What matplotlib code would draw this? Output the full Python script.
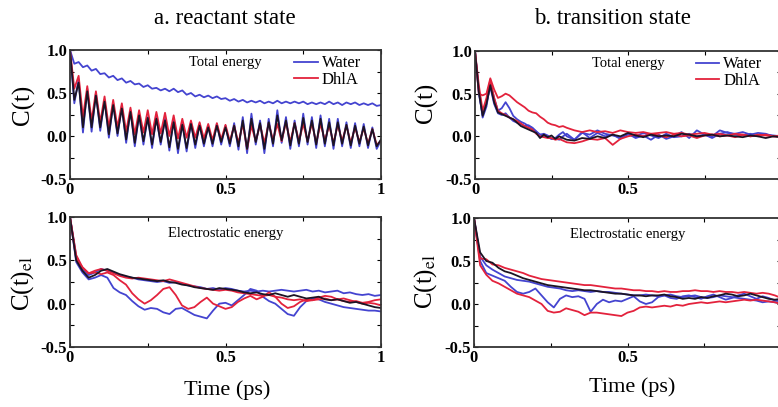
import matplotlib
matplotlib.use("Agg")
import matplotlib.pyplot as plt
import numpy as np
from matplotlib.lines import Line2D

plt.rcParams['font.family'] = ['Liberation Serif', 'DejaVu Serif']
plt.rcParams['mathtext.fontset'] = 'stix'

BLUE = '#4444d0'
RED = '#e3223c'
BLACK = '#1c1424'

# ---- a. reactant state, total energy (values at half-period steps) ----
rs_tot_water = [1.00, 0.84, 0.86, 0.80, 0.82, 0.76, 0.78, 0.72, 0.73, 0.68, 0.70, 0.65, 0.67, 0.62,
                0.64, 0.60, 0.61, 0.57, 0.59, 0.55, 0.56, 0.53, 0.55, 0.52, 0.55, 0.51, 0.53, 0.48,
                0.50, 0.46, 0.48, 0.45, 0.47, 0.44, 0.46, 0.43, 0.44, 0.41, 0.43, 0.40, 0.42, 0.39,
                0.41, 0.39, 0.41, 0.38, 0.40, 0.38, 0.41, 0.38, 0.40, 0.38, 0.40, 0.38, 0.40, 0.37,
                0.39, 0.37, 0.39, 0.37, 0.40, 0.37, 0.39, 0.36, 0.39, 0.37, 0.39, 0.36, 0.38, 0.36,
                0.38, 0.35, 0.36]
rs_tot_blue = [1.00, 0.38, 0.66, 0.04, 0.55, 0.05, 0.50, 0.06, 0.42, -0.02, 0.38, 0.00, 0.35, -0.08,
               0.30, -0.12, 0.25, -0.10, 0.22, -0.14, 0.22, -0.10, 0.20, -0.17, 0.18, -0.20, 0.15,
               -0.18, 0.16, -0.14, 0.14, -0.12, 0.12, -0.12, 0.14, -0.10, 0.12, -0.12, 0.15, -0.16,
               0.22, -0.20, 0.26, -0.10, 0.18, -0.20, 0.20, -0.12, 0.30, -0.08, 0.22, -0.15, 0.18,
               -0.12, 0.26, -0.10, 0.22, -0.14, 0.24, -0.12, 0.20, -0.15, 0.20, -0.12, 0.16, -0.14,
               0.15, -0.12, 0.14, -0.14, 0.10, -0.15, -0.05]
rs_tot_black = [1.00, 0.42, 0.62, 0.10, 0.52, 0.10, 0.47, 0.10, 0.40, 0.02, 0.36, 0.03, 0.32, -0.04,
                0.28, -0.08, 0.24, -0.06, 0.21, -0.10, 0.20, -0.07, 0.18, -0.13, 0.16, -0.15, 0.13,
                -0.14, 0.14, -0.10, 0.12, -0.09, 0.10, -0.09, 0.12, -0.07, 0.10, -0.09, 0.12, -0.12,
                0.18, -0.15, 0.20, -0.07, 0.15, -0.15, 0.16, -0.09, 0.24, -0.05, 0.18, -0.11, 0.15,
                -0.09, 0.21, -0.07, 0.18, -0.10, 0.20, -0.09, 0.16, -0.11, 0.16, -0.09, 0.13, -0.11,
                0.12, -0.09, 0.11, -0.11, 0.08, -0.12, -0.04]
rs_tot_dhla = [1.00, 0.55, 0.70, 0.22, 0.58, 0.18, 0.52, 0.16, 0.46, 0.10, 0.42, 0.10, 0.38, 0.05,
               0.33, 0.02, 0.30, 0.04, 0.30, 0.02, 0.28, 0.03, 0.27, 0.00, 0.24, -0.03, 0.20, -0.02,
               0.18, -0.02, 0.16, -0.03, 0.14, -0.05, 0.15, -0.04, 0.13, -0.06, 0.12, -0.08, 0.14,
               -0.15, 0.12, -0.06, 0.13, -0.08, 0.15, -0.05, 0.14, -0.06, 0.16, -0.07, 0.15, -0.06,
               0.14, -0.06, 0.15, -0.08, 0.14, -0.05, 0.12, -0.08, 0.13, -0.06, 0.12, -0.08, 0.10,
               -0.07, 0.09, -0.09, 0.08, -0.10, -0.06]

# ---- b. transition state, total energy ----
ts_tot_time = list(np.arange(0, 0.3, 0.0125)) + list(np.arange(0.3, 1.0001, 0.025))
ts_tot_water1 = [1.00, 0.55, 0.22, 0.35, 0.63, 0.45, 0.30, 0.33, 0.40, 0.33, 0.24, 0.20, 0.17, 0.15,
                 0.12, 0.10, 0.06, 0.02, 0.00, -0.01, -0.03, -0.02, -0.04, 0.00, 0.03,
                 -0.04, 0.05, -0.02, 0.04, 0.00, 0.02, -0.03, 0.03, -0.02, 0.01, -0.04, 0.02, -0.03,
                 0.00, 0.05, -0.02, 0.07, 0.02, 0.00, 0.07, 0.04, 0.03, 0.05, 0.02, 0.04, 0.03, 0.00, 0.01]
ts_tot_water2 = [1.00, 0.50, 0.25, 0.40, 0.58, 0.38, 0.27, 0.25, 0.27, 0.22, 0.18, 0.16, 0.14, 0.12,
                 0.13, 0.10, 0.05, 0.02, 0.03, 0.01, -0.03, -0.02, 0.02, 0.05, 0.00,
                 -0.04, 0.04, 0.02, 0.07, 0.03, 0.01, -0.01, 0.02, 0.00, 0.04, 0.01, -0.02, 0.03,
                 -0.01, 0.00, 0.03, 0.00, 0.02, -0.02, 0.03, 0.05, 0.02, 0.01, 0.03, 0.00, 0.02, 0.01, 0.00]
ts_tot_dhla1 = [1.00, 0.50, 0.48, 0.50, 0.68, 0.55, 0.45, 0.47, 0.50, 0.48, 0.44, 0.40, 0.37, 0.34,
                0.30, 0.28, 0.27, 0.23, 0.20, 0.16, 0.14, 0.13, 0.11, 0.12, 0.10,
                0.07, 0.05, 0.07, 0.05, 0.06, 0.04, 0.07, 0.05, 0.04, 0.05, 0.03, 0.04, 0.05, 0.03,
                0.04, 0.02, 0.03, 0.04, 0.02, 0.03, 0.01, 0.03, 0.02, 0.00, 0.02, 0.01, 0.00, -0.01]
ts_tot_dhla2 = [1.00, 0.60, 0.30, 0.45, 0.66, 0.45, 0.30, 0.27, 0.25, 0.22, 0.20, 0.18, 0.15, 0.12,
                0.10, 0.08, 0.03, 0.00, -0.01, -0.02, -0.02, -0.04, -0.03, -0.05, -0.07,
                -0.08, -0.06, -0.03, -0.04, -0.02, -0.10, -0.03, 0.00, 0.02, 0.00, 0.03, 0.01, -0.01,
                0.02, 0.00, 0.01, -0.02, 0.01, 0.02, 0.00, 0.01, -0.01, 0.02, 0.00, 0.01, 0.02, 0.00, 0.01]
ts_tot_black = [1.00, 0.52, 0.24, 0.38, 0.60, 0.40, 0.28, 0.26, 0.24, 0.22, 0.20, 0.16, 0.12, 0.10,
                0.08, 0.06, 0.04, -0.02, 0.02, -0.01, 0.01, -0.03, 0.00, -0.02, -0.04,
                -0.05, -0.02, -0.03, 0.00, -0.02, 0.02, 0.00, 0.04, 0.01, -0.01, 0.02, 0.00, 0.01,
                0.00, 0.03, 0.02, 0.00, 0.01, 0.02, 0.00, 0.01, 0.00, -0.01, 0.01, 0.00, -0.02, 0.00, -0.01]

# ---- a. reactant state, electrostatic energy (0.02 ps steps) ----
rs_el_water1 = [1.00, 0.55, 0.40, 0.33, 0.36, 0.40, 0.38, 0.36, 0.33, 0.31,
                0.30, 0.28, 0.27, 0.26, 0.25, 0.26, 0.24, 0.25, 0.23, 0.21,
                0.20, 0.19, 0.17, 0.18, 0.16, 0.18, 0.17, 0.15, 0.14, 0.15,
                0.14, 0.15, 0.14, 0.15, 0.16, 0.15, 0.14, 0.15, 0.16, 0.14,
                0.15, 0.13, 0.14, 0.15, 0.12, 0.13, 0.11, 0.10, 0.11, 0.09, 0.10]
rs_el_water2 = [1.00, 0.48, 0.36, 0.28, 0.30, 0.33, 0.30, 0.18, 0.13, 0.10,
                0.03, -0.03, -0.07, -0.05, -0.06, -0.10, -0.12, -0.06, -0.05, -0.09,
                -0.13, -0.15, -0.17, -0.08, 0.00, 0.01, -0.02, 0.04, 0.10, 0.17,
                0.15, 0.08, 0.03, 0.00, -0.06, -0.12, -0.14, -0.04, 0.03, 0.06,
                0.05, 0.02, 0.00, -0.02, -0.04, -0.05, -0.06, -0.07, -0.08, -0.08, -0.09]
rs_el_dhla1 = [1.00, 0.56, 0.42, 0.35, 0.38, 0.40, 0.38, 0.35, 0.32, 0.30,
               0.29, 0.30, 0.29, 0.28, 0.27, 0.26, 0.28, 0.26, 0.24, 0.22,
               0.20, 0.18, 0.17, 0.16, 0.15, 0.16, 0.15, 0.13, 0.12, 0.11,
               0.10, 0.09, 0.10, 0.08, 0.07, 0.05, 0.04, 0.05, 0.03, 0.04,
               0.05, 0.06, 0.04, 0.05, 0.03, 0.02, 0.03, 0.01, 0.02, 0.04, 0.05]
rs_el_dhla2 = [1.00, 0.52, 0.42, 0.35, 0.36, 0.34, 0.36, 0.33, 0.27, 0.22,
               0.12, 0.05, 0.00, 0.04, 0.10, 0.17, 0.19, 0.10, -0.02, -0.06,
               -0.04, 0.02, 0.07, 0.00, -0.03, -0.06, -0.04, 0.02, 0.06, 0.09,
               0.05, 0.08, 0.13, 0.08, 0.00, -0.05, -0.03, 0.02, 0.05, 0.04,
               0.07, 0.09, 0.08, 0.05, 0.06, 0.04, 0.02, 0.00, 0.01, 0.00, -0.02]
rs_el_black = [1.00, 0.50, 0.38, 0.30, 0.33, 0.38, 0.40, 0.37, 0.34, 0.32,
               0.30, 0.29, 0.28, 0.27, 0.26, 0.27, 0.25, 0.24, 0.22, 0.21,
               0.19, 0.18, 0.17, 0.16, 0.18, 0.17, 0.16, 0.15, 0.13, 0.12,
               0.13, 0.11, 0.10, 0.12, 0.10, 0.08, 0.10, 0.08, 0.06, 0.07,
               0.08, 0.05, 0.04, 0.05, 0.03, 0.01, 0.02, 0.00, -0.02, -0.04, -0.05]

# ---- b. transition state, electrostatic energy (0.02 ps steps) ----
ts_el_dhla1 = [1.00, 0.53, 0.52, 0.46, 0.45, 0.42, 0.40, 0.38, 0.36, 0.33,
               0.31, 0.29, 0.28, 0.27, 0.26, 0.25, 0.24, 0.23, 0.22, 0.22,
               0.21, 0.20, 0.19, 0.18, 0.18, 0.17, 0.16, 0.16, 0.15, 0.15,
               0.14, 0.15, 0.14, 0.14, 0.15, 0.15, 0.16, 0.15, 0.15, 0.14,
               0.15, 0.14, 0.14, 0.13, 0.14, 0.13, 0.12, 0.13, 0.12, 0.10, 0.07]
ts_el_dhla2 = [1.00, 0.45, 0.34, 0.27, 0.24, 0.20, 0.16, 0.12, 0.10, 0.08,
               0.04, 0.00, -0.08, -0.10, -0.09, -0.05, -0.07, -0.09, -0.13, -0.10,
               -0.10, -0.11, -0.12, -0.13, -0.14, -0.10, -0.08, -0.04, -0.03, -0.04,
               -0.03, -0.02, -0.03, -0.01, -0.02, 0.00, 0.01, 0.02, 0.01, 0.02,
               0.03, 0.02, 0.03, 0.04, 0.05, 0.04, 0.05, 0.04, 0.03, 0.02, 0.00]
ts_el_water1 = [1.00, 0.50, 0.36, 0.33, 0.30, 0.27, 0.20, 0.14, 0.12, 0.14,
                0.18, 0.10, 0.02, -0.04, 0.06, 0.10, 0.08, 0.09, 0.06, -0.09,
                0.00, 0.05, 0.02, 0.04, 0.03, 0.06, 0.09, 0.03, 0.00, 0.02,
                0.08, 0.10, 0.07, 0.06, 0.09, 0.10, 0.08, 0.06, 0.09, 0.11,
                0.08, 0.05, 0.07, 0.10, 0.12, 0.09, 0.06, 0.09, 0.07, 0.04, 0.03]
ts_el_water2 = [1.00, 0.55, 0.45, 0.40, 0.36, 0.32, 0.30, 0.28, 0.27, 0.26,
                0.24, 0.22, 0.20, 0.19, 0.18, 0.16, 0.15, 0.16, 0.15, 0.14,
                0.15, 0.14, 0.14, 0.13, 0.12, 0.11, 0.10, 0.10, 0.11, 0.10,
                0.09, 0.10, 0.11, 0.09, 0.08, 0.09, 0.10, 0.08, 0.07, 0.08,
                0.10, 0.09, 0.08, 0.07, 0.06, 0.05, 0.04, 0.02, 0.03, 0.02, 0.01]
ts_el_black = [1.00, 0.60, 0.50, 0.48, 0.42, 0.38, 0.36, 0.33, 0.30, 0.28,
               0.26, 0.24, 0.22, 0.21, 0.20, 0.19, 0.18, 0.17, 0.16, 0.16,
               0.15, 0.14, 0.13, 0.12, 0.12, 0.11, 0.10, 0.10, 0.09, 0.10,
               0.10, 0.11, 0.09, 0.08, 0.06, 0.07, 0.06, 0.08, 0.07, 0.09,
               0.10, 0.12, 0.11, 0.09, 0.10, 0.12, 0.10, 0.08, 0.06, 0.05, 0.06]

W, H = 778, 407


def box(left, top, right, bottom):
    return [left / W, 1 - bottom / H, (right - left) / W, (bottom - top) / H]


def curve(ax, vals, color, t=None, lw=1.3):
    if t is None:
        t = np.linspace(0, 1, len(vals))
    ax.plot(t, vals, color=color, lw=lw, solid_joinstyle='round')


def style(ax, label, label_y, cut_right=False, legend=False):
    ax.set_xlim(0, 1)
    ax.set_ylim(-0.5, 1.0)
    ax.set_xticks([0, 0.5, 1])
    # the right-hand panels run past the page edge, so their "1" is not shown
    ax.set_xticklabels(['0', '0.5', '' if cut_right else '1'])
    ax.set_yticks([-0.5, 0, 0.5, 1.0])
    ax.set_yticklabels(['-0.5', '0.0', '0.5', '1.0'])
    ax.set_xticks([0.25, 0.75], minor=True)
    ax.set_yticks([-0.25, 0.25, 0.75], minor=True)
    ax.tick_params(which='both', direction='in', top=True, right=True, length=3, width=0.8)
    ax.tick_params(labelsize=12, pad=2)
    for lab in ax.get_xticklabels() + ax.get_yticklabels():
        lab.set_fontweight('bold')
    for sp in ax.spines.values():
        sp.set_linewidth(1.3)
        sp.set_color('#333333')
    ax.text(0.5, label_y, label, transform=ax.transAxes, ha='center', va='center', fontsize=10.5)
    if legend:
        handles = [Line2D([], [], color=BLUE, lw=1.3), Line2D([], [], color=RED, lw=1.3)]
        ax.legend(handles, ['Water', 'DhlA'], loc='upper left', bbox_to_anchor=(0.70, 1.01),
                  frameon=False, fontsize=12, handlelength=1.4, handletextpad=0.25,
                  labelspacing=0.05, borderaxespad=0.2, borderpad=0.2)


fig = plt.figure(figsize=(7.78, 4.07), dpi=100)
ax1 = fig.add_axes(box(70, 50, 381, 179))
ax2 = fig.add_axes(box(475, 51, 781, 179))
ax3 = fig.add_axes(box(70, 217, 381, 347))
ax4 = fig.add_axes(box(474, 218, 781, 347))

curve(ax1, rs_tot_water, BLUE)
curve(ax1, rs_tot_blue, BLUE)
curve(ax1, rs_tot_dhla, RED)
curve(ax1, rs_tot_black, BLACK)
style(ax1, 'Total energy', 0.905, legend=True)

curve(ax2, ts_tot_water1, BLUE, ts_tot_time)
curve(ax2, ts_tot_water2, BLUE, ts_tot_time)
curve(ax2, ts_tot_dhla1, RED, ts_tot_time)
curve(ax2, ts_tot_dhla2, RED, ts_tot_time)
curve(ax2, ts_tot_black, BLACK, ts_tot_time)
style(ax2, 'Total energy', 0.905, cut_right=True, legend=True)

curve(ax3, rs_el_water1, BLUE)
curve(ax3, rs_el_water2, BLUE)
curve(ax3, rs_el_dhla1, RED)
curve(ax3, rs_el_dhla2, RED)
curve(ax3, rs_el_black, BLACK)
style(ax3, 'Electrostatic energy', 0.875)

curve(ax4, ts_el_water1, BLUE)
curve(ax4, ts_el_water2, BLUE)
curve(ax4, ts_el_dhla1, RED)
curve(ax4, ts_el_dhla2, RED)
curve(ax4, ts_el_black, BLACK)
style(ax4, 'Electrostatic energy', 0.875, cut_right=True)

fig.text(225 / W, 1 - 18 / H, 'a. reactant state', ha='center', va='center', fontsize=16.5)
fig.text(612 / W, 1 - 18 / H, 'b. transition state', ha='center', va='center', fontsize=16.5)
fig.text(227 / W, 1 - 390 / H, 'Time (ps)', ha='center', va='center', fontsize=16)
fig.text(632 / W, 1 - 387 / H, 'Time (ps)', ha='center', va='center', fontsize=16)
fig.text(23 / W, 1 - 105 / H, 'C(t)', rotation=90, ha='center', va='center', fontsize=18)
fig.text(426 / W, 1 - 103 / H, 'C(t)', rotation=90, ha='center', va='center', fontsize=18)
fig.text(23 / W, 1 - 284 / H, r'C(t)$_{\rm el}$', rotation=90, ha='center', va='center', fontsize=18)
fig.text(426 / W, 1 - 282 / H, r'C(t)$_{\rm el}$', rotation=90, ha='center', va='center', fontsize=18)

fig.savefig('out.png', dpi=100)
